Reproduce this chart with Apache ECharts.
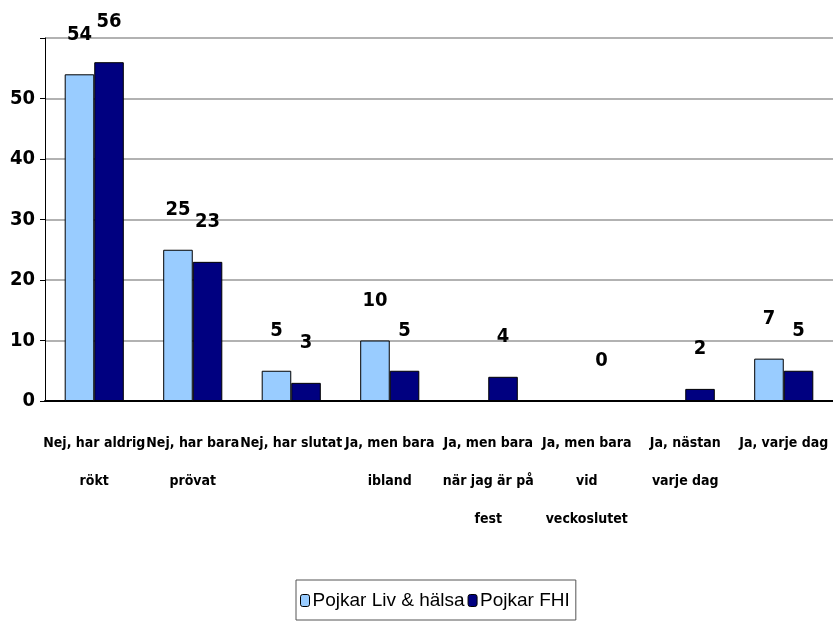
<!DOCTYPE html>
<html><head><meta charset="utf-8">
<script src="https://cdn.jsdelivr.net/npm/echarts@6/dist/echarts.min.js"></script>
<style>html,body{margin:0;padding:0;background:#fff}#c{width:833px;height:634px}</style>
</head><body><div id="c"></div>
<script>
const categories = ["Nej, har aldrig\nrökt","Nej, har bara\nprövat","Nej, har slutat","Ja, men bara\nibland","Ja, men bara\nnär jag är på\nfest","Ja, men bara\nvid\nveckoslutet","Ja, nästan\nvarje dag","Ja, varje dag"];
const livHalsa = [54, 25, 5, 10, null, null, null, 7];
const fhi = [56, 23, 3, 5, 4, 0, 2, 5];
const seriesNames = ["Pojkar Liv & hälsa", "Pojkar FHI"];
const condensed = '"DejaVu Sans Condensed","Liberation Sans Narrow",sans-serif';
const chart = echarts.init(document.getElementById('c'));
const lbl = {show:true, position:'top', distance:30, color:'#000', fontFamily:condensed, fontWeight:'bold', fontSize:20};
chart.setOption({
  animation:false,
  grid:{left:45, right:0, top:38, bottom:233},
  legend:{
    bottom:14, left:296, itemWidth:9, itemHeight:12, itemGap:3,
    padding:[11,6,10,4], borderColor:'#555', borderWidth:1,
    textStyle:{fontFamily:'"Liberation Sans",sans-serif', fontSize:19, color:'#000', padding:[0,0,0,-2]},
    data:seriesNames.map(n=>({name:n, itemStyle:{borderColor:'#000', borderWidth:1}}))
  },
  xAxis:{type:'category', data:categories,
    axisLine:{lineStyle:{color:'#000', width:2}}, axisTick:{show:false},
    axisLabel:{interval:0, margin:23, lineHeight:38, color:'#000', fontFamily:condensed, fontWeight:'bold', fontSize:14}},
  yAxis:{type:'value', min:0, max:60, interval:10,
    axisLine:{show:true, lineStyle:{color:'#000', width:1}},
    axisTick:{show:true, length:5, lineStyle:{color:'#000'}},
    splitLine:{lineStyle:{color:'#999', width:1.5}},
    axisLabel:{margin:10, color:'#000', fontFamily:condensed, fontWeight:'bold', fontSize:20, formatter:v=> v===60?'':v}},
  series:[
    {name:seriesNames[0], type:'bar', data:livHalsa, barGap:'0%', barCategoryGap:'40%',
     itemStyle:{color:'#99CCFF', borderColor:'#000', borderWidth:1}, label:lbl},
    {name:seriesNames[1], type:'bar', data:fhi,
     itemStyle:{color:'#000080', borderColor:'#000', borderWidth:1}, label:lbl}
  ]
});
</script></body></html>
